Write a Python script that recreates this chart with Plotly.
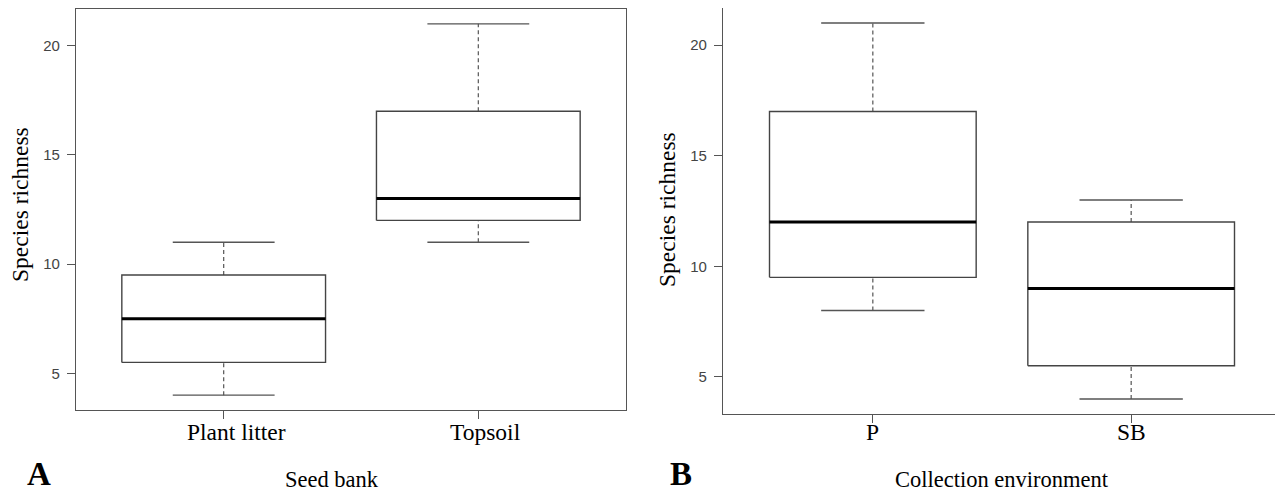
import plotly.graph_objects as go

# ---- data ----
seedbank_cats = ["Plant litter", "Topsoil"]
seedbank_lower = [4, 11]
seedbank_q1 = [5.5, 12]
seedbank_median = [7.5, 13]
seedbank_q3 = [9.5, 17]
seedbank_upper = [11, 21]

env_cats = ["P", "SB"]
env_lower = [8, 4]
env_q1 = [9.5, 5.5]
env_median = [12, 9]
env_q3 = [17, 12]
env_upper = [21, 13]

y_ticks = [5, 10, 15, 20]

# ---- style ----
BOX_HALF = 0.4
CAP_HALF = 0.2
FRAME = "#555555"
BOXC = "#444444"
SERIF = "Liberation Serif, Times New Roman, serif"
SANS = "Liberation Sans, Arial, sans-serif"

# the page body has an 8px margin; lay the figure out in page pixels minus it
OFF = 8
W, H = 1283 - OFF, 491 - OFF


def px(x):
    return (x - OFF) / W


def py(y):
    return (H - (y - OFF)) / H


fig = go.Figure()


def add_boxplot(cats, lo, q1, med, q3, hi, xa, ya):
    bx, by, mx, my, wx, wy, cx, cy = [], [], [], [], [], [], [], []
    for i in range(len(cats)):
        p = i + 1
        bx += [p - BOX_HALF, p + BOX_HALF, p + BOX_HALF, p - BOX_HALF, p - BOX_HALF, None]
        by += [q1[i], q1[i], q3[i], q3[i], q1[i], None]
        mx += [p - BOX_HALF, p + BOX_HALF, None]
        my += [med[i], med[i], None]
        wx += [p, p, None, p, p, None]
        wy += [lo[i], q1[i], None, q3[i], hi[i], None]
        cx += [p - CAP_HALF, p + CAP_HALF, None, p - CAP_HALF, p + CAP_HALF, None]
        cy += [lo[i], lo[i], None, hi[i], hi[i], None]
    common = dict(mode="lines", xaxis=xa, yaxis=ya, showlegend=False, hoverinfo="skip")
    fig.add_trace(go.Scatter(x=wx, y=wy, line=dict(color=FRAME, width=1.2, dash="4px,3px"), **common))
    fig.add_trace(go.Scatter(x=cx, y=cy, line=dict(color=FRAME, width=1.4), **common))
    fig.add_trace(go.Scatter(x=bx, y=by, line=dict(color=BOXC, width=1.4), **common))
    fig.add_trace(go.Scatter(x=mx, y=my, line=dict(color="black", width=3), **common))


add_boxplot(seedbank_cats, seedbank_lower, seedbank_q1, seedbank_median,
            seedbank_q3, seedbank_upper, "x", "y")
add_boxplot(env_cats, env_lower, env_q1, env_median, env_q3, env_upper, "x2", "y2")

xcommon = dict(range=[0.42, 2.58], showline=True, mirror=True, linecolor=FRAME, linewidth=1.3,
               ticks="outside", ticklen=8, tickcolor=FRAME, tickwidth=1.2, showgrid=False,
               zeroline=False, tickvals=[1, 2], showticklabels=False, fixedrange=True)
ycommon = dict(range=[3.32, 21.68], showline=True, mirror=True, linecolor=FRAME, linewidth=1.3,
               ticks="outside", ticklen=8, tickcolor=FRAME, tickwidth=1.2, showgrid=False,
               zeroline=False, tickvals=y_ticks, ticklabelstandoff=4,
               tickfont=dict(family=SANS, size=15, color="#444444"), fixedrange=True)

fig.update_layout(
    width=W, height=H,
    margin=dict(l=0, r=0, t=0, b=0),
    paper_bgcolor="white", plot_bgcolor="white",
    xaxis=dict(domain=[px(76), px(626)], anchor="y", **xcommon),
    yaxis=dict(domain=[py(410), py(9)], anchor="x", **ycommon),
    xaxis2=dict(domain=[px(723), min(px(1281), 1.0)], anchor="y2", **xcommon),
    yaxis2=dict(domain=[py(414), py(8)], anchor="x2", **ycommon),
)

ann = []
# category labels under the ticks
label_shift_a = [13, 7]
for i, c in enumerate(seedbank_cats):
    ann.append(dict(text=c, x=i + 1, xref="x", y=py(432), yref="paper", xanchor="center",
                    yanchor="middle", showarrow=False, xshift=label_shift_a[i],
                    font=dict(family=SERIF, size=23.5, color="black")))
for i, c in enumerate(env_cats):
    ann.append(dict(text=c, x=i + 1, xref="x2", y=py(432), yref="paper", xanchor="center",
                    yanchor="middle", showarrow=False,
                    font=dict(family=SERIF, size=23.5, color="black")))
# axis titles
ann.append(dict(text="Seed bank", x=px(332), y=py(479), xref="paper", yref="paper",
                xanchor="center", yanchor="middle", showarrow=False,
                font=dict(family=SERIF, size=22.5, color="black")))
ann.append(dict(text="Collection environment", x=px(1002), y=py(479), xref="paper", yref="paper",
                xanchor="center", yanchor="middle", showarrow=False,
                font=dict(family=SERIF, size=22.5, color="black")))
ann.append(dict(text="Species richness", x=px(20), y=py(205), xref="paper", yref="paper",
                xanchor="center", yanchor="middle", showarrow=False, textangle=-90,
                font=dict(family=SERIF, size=23.5, color="black")))
ann.append(dict(text="Species richness", x=px(667), y=py(210), xref="paper", yref="paper",
                xanchor="center", yanchor="middle", showarrow=False, textangle=-90,
                font=dict(family=SERIF, size=23.5, color="black")))
# panel letters
ann.append(dict(text="<b>A</b>", x=px(39), y=py(474), xref="paper", yref="paper",
                xanchor="center", yanchor="middle", showarrow=False,
                font=dict(family=SERIF, size=33, color="black")))
ann.append(dict(text="<b>B</b>", x=px(681), y=py(474), xref="paper", yref="paper",
                xanchor="center", yanchor="middle", showarrow=False,
                font=dict(family=SERIF, size=33, color="black")))
fig.update_layout(annotations=ann)

fig.write_html("out.html")
